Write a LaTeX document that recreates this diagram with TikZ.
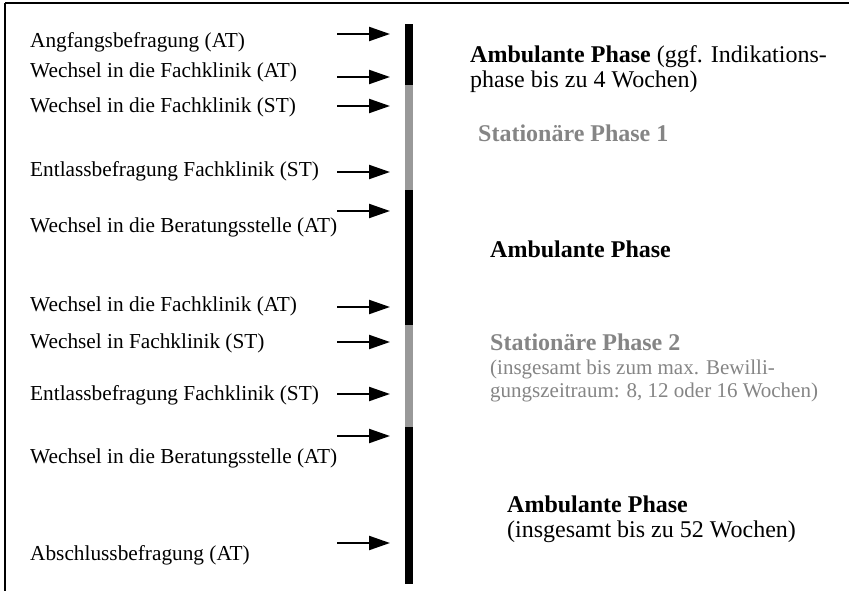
\documentclass[tikz,border=0pt]{standalone}
\usepackage{fontspec}
\setmainfont{Liberation Serif}
\usetikzlibrary{arrows.meta}
\definecolor{phasegray}{HTML}{999999}
\definecolor{labelgray}{HTML}{858585}
\begin{document}
\begin{tikzpicture}[x=1pt,y=-1pt,
  lbl/.style={anchor=base west,inner sep=0pt,font=\fontsize{21.3}{25}\selectfont},
  small/.style={anchor=base west,inner sep=0pt,font=\fontsize{21}{25}\selectfont},
  big/.style={anchor=base west,inner sep=0pt,font=\fontsize{24}{28}\selectfont},
  head/.style={big,font=\fontsize{24}{28}\selectfont\bfseries},
  stat/.style={small,text=labelgray},
  marker/.style={line width=2.2pt,-{Triangle[length=21pt,width=14pt]}}]
\useasboundingbox (0,0) rectangle (849,591);
\fill[white] (0,0) rectangle (849,591);

% frame
\draw[line width=2pt] (5,3) -- (849,3);
\draw[line width=1.5pt] (5,3) -- (5,591);

% time bar
\fill[black]     (405,24)  rectangle (413,85);
\fill[phasegray] (405,85)  rectangle (413,190);
\fill[black]     (405,190) rectangle (413,325);
\fill[phasegray] (405,325) rectangle (413,427);
\fill[black]     (405,427) rectangle (413,584);

% events
\node[lbl] (e1)  at (30,48)  {Angfangsbefragung (AT)};
\node[lbl] (e2)  at (30,78)  {Wechsel in die Fachklinik (AT)};
\node[lbl] (e3)  at (30,113) {Wechsel in die Fachklinik (ST)};
\node[lbl] (e4)  at (30,177) {Entlassbefragung Fachklinik (ST)};
\node[lbl] (e5)  at (30,233) {Wechsel in die Beratungsstelle (AT)};
\node[lbl] (e6)  at (30,311) {Wechsel in die Fachklinik (AT)};
\node[lbl] (e7)  at (30,348) {Wechsel in Fachklinik (ST)};
\node[lbl] (e8)  at (30,400) {Entlassbefragung Fachklinik (ST)};
\node[lbl] (e9)  at (30,463) {Wechsel in die Beratungsstelle (AT)};
\node[lbl] (e10) at (30,560) {Abschlussbefragung (AT)};

% arrows pointing at the bar
\foreach \i/\y in {1/34,2/77,3/106,4/172,5/211,6/307,7/342,8/394,9/436,10/543}{
  \coordinate (s\i) at (337,\y);
  \coordinate (t\i) at (390,\y);
  \draw[marker] (s\i) -- (t\i);
}

% phases
\node[big] (p1a) at (470,63) {\textbf{Ambulante Phase} (ggf. Indikations-};
\node[big] (p1b) at (470,88) {phase bis zu 4 Wochen)};
\node[head,text=labelgray] (p2) at (478,142) {Stationäre Phase 1};
\node[head] (p3) at (490,257) {Ambulante Phase};
\node[head,text=labelgray] (p4a) at (490,350) {Stationäre Phase 2};
\node[stat] (p4b) at (490,374) {(insgesamt bis zum max. Bewilli-};
\node[stat] (p4c) at (490,397) {gungszeitraum: 8, 12 oder 16 Wochen)};
\node[head] (p5a) at (507,512) {Ambulante Phase};
\node[big] (p5b) at (507,537) {(insgesamt bis zu 52 Wochen)};
\end{tikzpicture}
\end{document}
